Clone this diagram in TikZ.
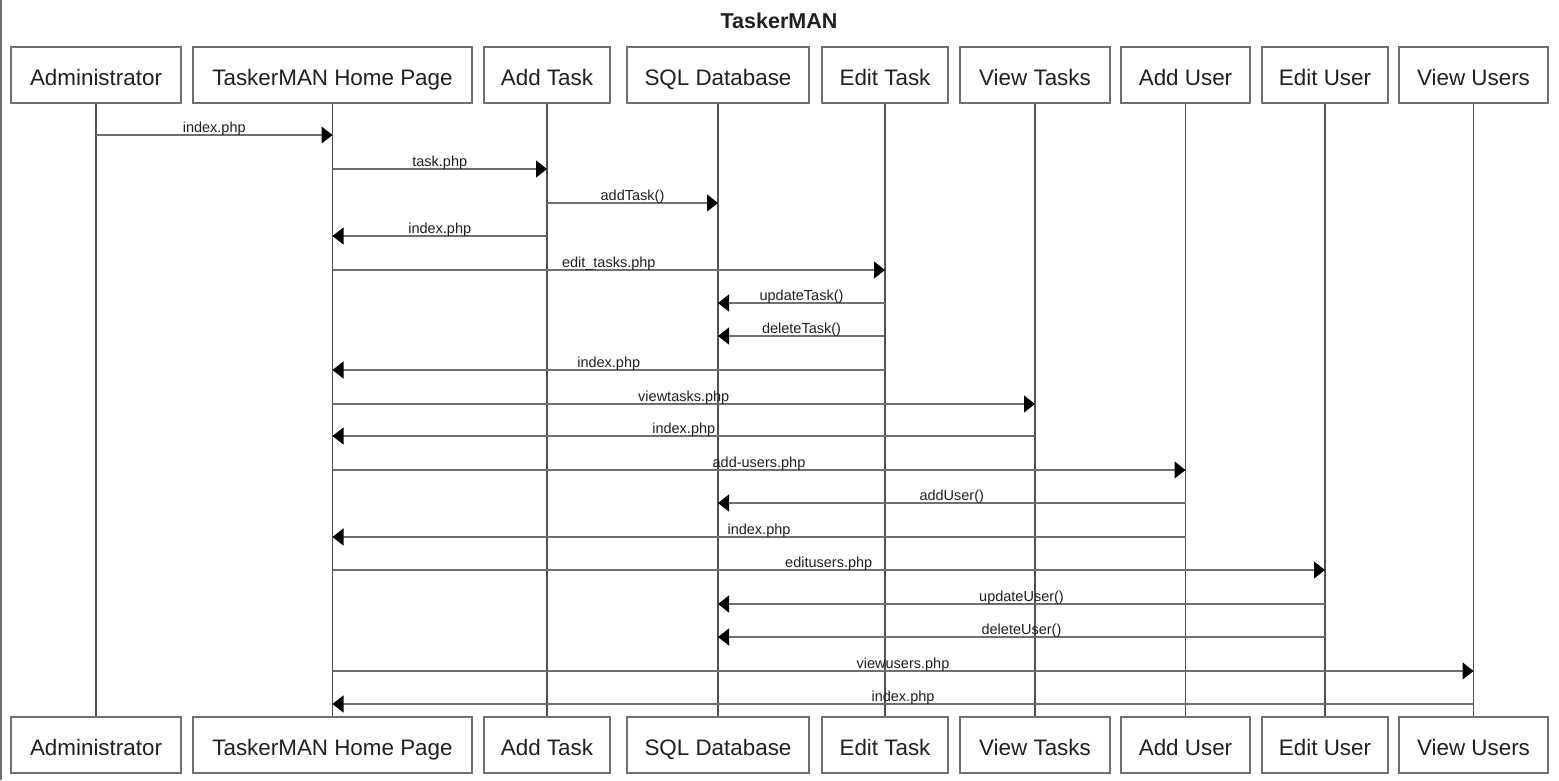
\documentclass[tikz,border=0pt]{standalone}
\usepackage{fontspec}
\setmainfont{Liberation Sans}
\usetikzlibrary{arrows.meta}
\definecolor{boxline}{HTML}{707070}
\definecolor{lifeline}{HTML}{505050}
\definecolor{msgline}{HTML}{707070}
\definecolor{txt}{HTML}{202020}
\tikzset{
  actor/.style={draw=boxline, line width=1.2pt, fill=white, minimum height=56pt, inner sep=0pt,
    text height=20pt, text depth=0pt,
    font=\fontsize{22.4}{24}\selectfont, text=txt},
  life/.style={draw=lifeline, line width=1.1pt},
  msg/.style={draw=msgline, line width=1.1pt, -{Triangle[length=11pt,width=17pt,color=black,fill=black]}},
  lbl/.style={midway, above, inner sep=0pt, yshift=-1.5pt, text=txt, font=\fontsize{14.5}{15}\selectfont},
}
\begin{document}
\begin{tikzpicture}[x=1pt,y=-1pt]
\useasboundingbox (0,0) rectangle (1559,780);
\fill[white] (0,0) rectangle (1559,780);
\draw[boxline, line width=1.2pt] (1,0) -- (1,780);
\node[font=\bfseries\fontsize{21.5}{23}\selectfont, text=txt] (title) at (779,21) {TaskerMAN};
% top actors
\node[actor, minimum width=170pt] (admT) at (96,75) {Administrator};
\node[actor, minimum width=279pt] (homT) at (332.5,75) {TaskerMAN Home Page};
\node[actor, minimum width=126pt] (atkT) at (547,75) {Add Task};
\node[actor, minimum width=182pt] (sqlT) at (718,75) {SQL Database};
\node[actor, minimum width=126pt] (etkT) at (885,75) {Edit Task};
\node[actor, minimum width=150pt] (vtkT) at (1035,75) {View Tasks};
\node[actor, minimum width=129pt] (ausT) at (1185.5,75) {Add User};
\node[actor, minimum width=126pt] (eusT) at (1325,75) {Edit User};
\node[actor, minimum width=149pt] (vusT) at (1473.5,75) {View Users};
% bottom actors
\node[actor, minimum width=170pt] (admB) at (96,745) {Administrator};
\node[actor, minimum width=279pt] (homB) at (332.5,745) {TaskerMAN Home Page};
\node[actor, minimum width=126pt] (atkB) at (547,745) {Add Task};
\node[actor, minimum width=182pt] (sqlB) at (718,745) {SQL Database};
\node[actor, minimum width=126pt] (etkB) at (885,745) {Edit Task};
\node[actor, minimum width=150pt] (vtkB) at (1035,745) {View Tasks};
\node[actor, minimum width=129pt] (ausB) at (1185.5,745) {Add User};
\node[actor, minimum width=126pt] (eusB) at (1325,745) {Edit User};
\node[actor, minimum width=149pt] (vusB) at (1473.5,745) {View Users};
% lifelines
\foreach \a in {adm,hom,atk,sql,etk,vtk,aus,eus,vus}{
  \draw[life] (\a T.south) -- (\a B.north);
}
% message rows
\foreach \i/\yy in {1/135,2/169,3/203,4/236,5/270,6/303,7/336,8/370,9/404,10/436,11/470,12/503,13/537,14/570,15/604,16/637,17/671,18/704}{
  \coordinate (m\i) at (0,\yy);
}
\draw[msg] (admT |- m1) -- node[lbl]{index.php} (homT |- m1);
\draw[msg] (homT |- m2) -- node[lbl]{task.php} (atkT |- m2);
\draw[msg] (atkT |- m3) -- node[lbl]{addTask()} (sqlT |- m3);
\draw[msg] (atkT |- m4) -- node[lbl]{index.php} (homT |- m4);
\draw[msg] (homT |- m5) -- node[lbl]{edit\_tasks.php} (etkT |- m5);
\draw[msg] (etkT |- m6) -- node[lbl]{updateTask()} (sqlT |- m6);
\draw[msg] (etkT |- m7) -- node[lbl]{deleteTask()} (sqlT |- m7);
\draw[msg] (etkT |- m8) -- node[lbl]{index.php} (homT |- m8);
\draw[msg] (homT |- m9) -- node[lbl]{viewtasks.php} (vtkT |- m9);
\draw[msg] (vtkT |- m10) -- node[lbl]{index.php} (homT |- m10);
\draw[msg] (homT |- m11) -- node[lbl]{add-users.php} (ausT |- m11);
\draw[msg] (ausT |- m12) -- node[lbl]{addUser()} (sqlT |- m12);
\draw[msg] (ausT |- m13) -- node[lbl]{index.php} (homT |- m13);
\draw[msg] (homT |- m14) -- node[lbl]{editusers.php} (eusT |- m14);
\draw[msg] (eusT |- m15) -- node[lbl]{updateUser()} (sqlT |- m15);
\draw[msg] (eusT |- m16) -- node[lbl]{deleteUser()} (sqlT |- m16);
\draw[msg] (homT |- m17) -- node[lbl]{viewusers.php} (vusT |- m17);
\draw[msg] (vusT |- m18) -- node[lbl]{index.php} (homT |- m18);
\end{tikzpicture}
\end{document}
